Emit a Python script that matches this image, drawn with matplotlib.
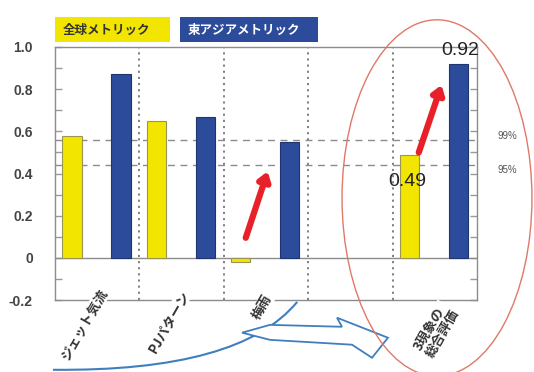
import matplotlib
matplotlib.use("Agg")
import matplotlib.pyplot as plt
from matplotlib.patches import Ellipse, Polygon, Rectangle, PathPatch
from matplotlib.path import Path
import numpy as np

plt.rcParams['font.family'] = ['Noto Sans CJK JP', 'DejaVu Sans']

# data
categories = ["ジェット気流", "PJパターン", "梅雨", "", "3現象の\n総合評価"]
global_metric = [0.58, 0.65, -0.02, None, 0.49]
eastasia_metric = [0.87, 0.67, 0.55, None, 0.92]
series_names = ["全球メトリック", "東アジアメトリック"]
sig_levels = [0.56, 0.44]
sig_labels = ["99%", "95%"]
yticks = [-0.2, 0, 0.2, 0.4, 0.6, 0.8, 1.0]
ytick_labels = ["-0.2", "0", "0.2", "0.4", "0.6", "0.8", "1.0"]

YELLOW = "#F2E600"
BLUE = "#2D4B9B"
GRID = "#8c8c8c"
W, H = 534, 372

fig = plt.figure(figsize=(W / 100, H / 100), dpi=100)
ax = fig.add_axes([55 / W, 1 - 300 / H, 422 / W, 253 / H])
ax.set_xlim(0, 5)
ax.set_ylim(-0.2, 1.0)

w = 0.23
for i, (g, e) in enumerate(zip(global_metric, eastasia_metric)):
    if g is not None:
        ax.bar(i + 0.2, g, width=w, color=YELLOW, edgecolor="#9a9455", lw=0.8, zorder=3)
    if e is not None:
        ax.bar(i + 0.78, e, width=w, color=BLUE, edgecolor="#1f356f", lw=0.8, zorder=3)

# group separators and significance levels
for b in range(1, 5):
    ax.axvline(b, color="#777777", ls=(0, (1.2, 2.2)), lw=1.3, zorder=1)
for lvl in sig_levels:
    ax.axhline(lvl, color=GRID, ls=(0, (5, 4)), lw=1.0, zorder=1)
ax.axhline(0, color=GRID, lw=1.0, zorder=2)

ax.text(5.36, sig_levels[0] + 0.02, sig_labels[0], fontsize=7, color="#555555",
        family="Liberation Sans", va="center", ha="center", clip_on=False)
ax.text(5.36, sig_levels[1] - 0.025, sig_labels[1], fontsize=7, color="#555555",
        family="Liberation Sans", va="center", ha="center", clip_on=False)

# axes styling
for s in ax.spines.values():
    s.set_color(GRID)
    s.set_linewidth(1.0)
ax.set_yticks(yticks)
ax.set_yticklabels(ytick_labels, family="Liberation Sans", fontweight="bold",
                   fontsize=10, color="#444444")
ax.set_yticks(np.arange(-0.2, 1.01, 0.1), minor=True)
ax.tick_params(axis="y", which="both", direction="in", length=5, width=1.0,
               color="#999999", left=True, right=True, pad=16)
ax.set_xticks([])

# category labels
label_pos = [(0.58, -0.155), (1.55, -0.16), (2.53, -0.18), None, (4.68, -0.235)]
for cat, pos in zip(categories, label_pos):
    if pos is None:
        continue
    ax.text(pos[0], pos[1], cat, rotation=60, rotation_mode="anchor",
            ha="right", va="center", fontsize=9.5, fontweight="bold",
            color="#333333", linespacing=1.0, multialignment="left",
            bbox=dict(facecolor="white", edgecolor="none", pad=0.5),
            clip_on=False, zorder=5)

# value labels on the composite evaluation
ax.text(4.17, 0.36, f"{global_metric[4]:.2f}", fontsize=14, color="#222222",
        family="Liberation Sans", ha="center", va="center", zorder=6)
ax.text(4.8, 0.985, f"{eastasia_metric[4]:.2f}", fontsize=14, color="#222222",
        family="Liberation Sans", ha="center", va="center", zorder=6, clip_on=False)

# red improvement arrows
for (x0, y0, x1, y1) in [(2.26, 0.095, 2.52, 0.41), (4.31, 0.50, 4.58, 0.82)]:
    ax.annotate("", xy=(x1, y1), xytext=(x0, y0),
                arrowprops=dict(arrowstyle="-|>,head_length=0.5,head_width=0.35",
                                color="#E8202A", lw=4.5, shrinkA=0, shrinkB=0),
                zorder=6)

# ellipse around the composite evaluation
ax.add_patch(Ellipse((4.526, 0.284), 2.25, 1.69, fill=False, edgecolor="#E07868",
                     lw=1.0, clip_on=False, zorder=7))

# blue flow curve and arrow below the chart
curve = Path([(-0.024, -0.531), (2.19, -0.540), (2.87, -0.209)],
             [Path.MOVETO, Path.CURVE3, Path.CURVE3])
ax.add_patch(PathPatch(curve, fill=False, edgecolor="#3F7FBF", lw=1.5,
                       clip_on=False, zorder=4))
arrow_shape = [(2.216, -0.355), (2.547, -0.318), (3.40, -0.327), (3.341, -0.284),
               (3.945, -0.379), (3.756, -0.474), (3.519, -0.412), (2.547, -0.389)]
ax.add_patch(Polygon(arrow_shape, closed=True, facecolor="white", edgecolor="#3F7FBF",
                     lw=1.3, clip_on=False, zorder=4))

# legend boxes
legend_boxes = [(55, 170, YELLOW, "#333333"), (180, 318, BLUE, "white")]
for name, (x0, x1, fc, tc) in zip(series_names, legend_boxes):
    fig.patches.append(Rectangle((x0 / W, 1 - 42 / H), (x1 - x0) / W, 25 / H,
                                 transform=fig.transFigure, facecolor=fc,
                                 edgecolor="none"))
    fig.text((x0 + 8) / W, 1 - 30 / H, name, fontsize=9, fontweight="bold",
             color=tc, va="center", ha="left")

fig.savefig("out.png", dpi=100)
